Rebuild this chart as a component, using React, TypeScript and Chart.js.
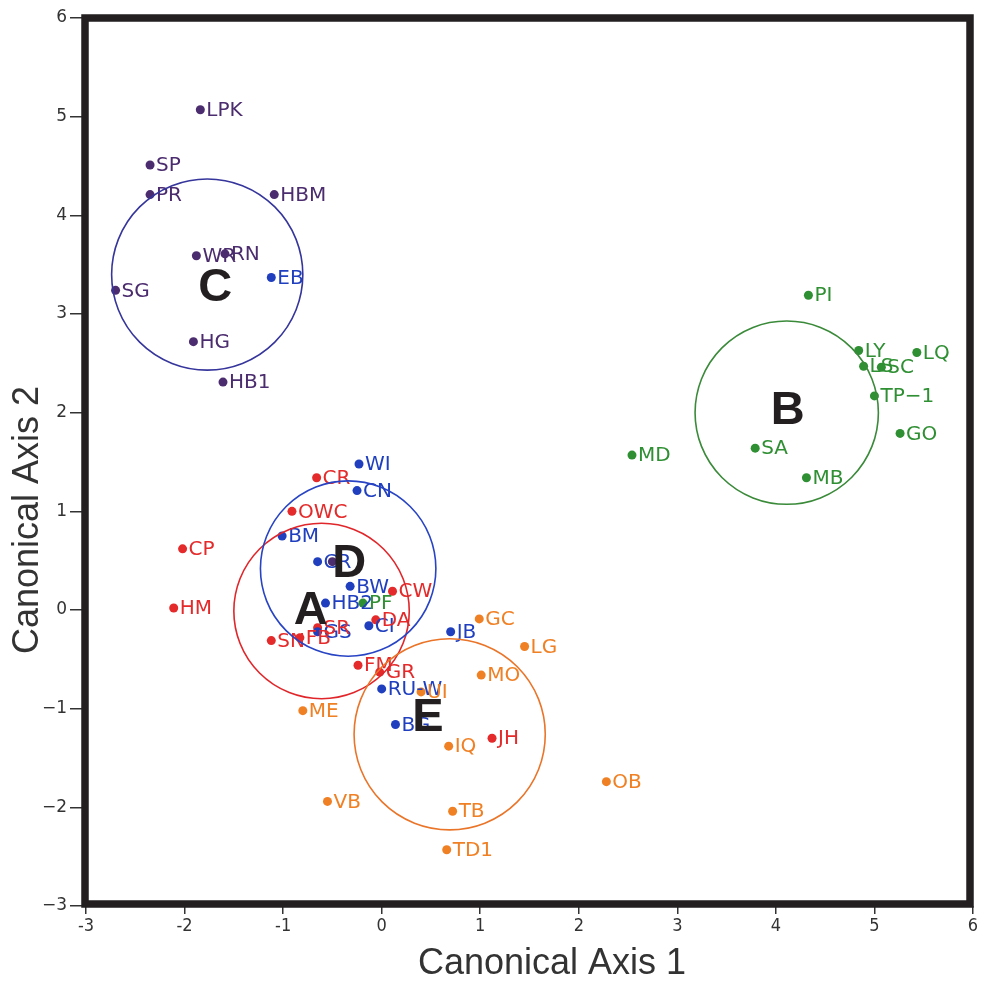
import React, { useEffect, useRef } from "react";
import { Chart, registerables } from "chart.js";

Chart.register(...registerables);

// ---- data ----
const purpleNames = ["LPK", "SP", "PR", "HBM", "WR", "RN", "SG", "HG", "HB1", ""];
const purpleX = [-1.84, -2.35, -2.35, -1.09, -1.88, -1.59, -2.7, -1.91, -1.61, -0.5];
const purpleY = [5.07, 4.51, 4.21, 4.21, 3.59, 3.61, 3.24, 2.72, 2.31, 0.49];

const blueNames = ["WI", "CN", "BM", "CR", "BW", "HB2", "CI", "GS", "JB", "RU-W", "BG", "EB"];
const blueX = [-0.23, -0.25, -1.01, -0.65, -0.32, -0.57, -0.13, -0.65, 0.7, 0.0, 0.14, -1.12];
const blueY = [1.48, 1.21, 0.75, 0.49, 0.24, 0.07, -0.16, -0.22, -0.22, -0.8, -1.16, 3.37];

const redNames = ["CR", "OWC", "CP", "HM", "CW", "DA", "SR", "SN", "FB", "FM", "GR", "JH"];
const redX = [-0.66, -0.91, -2.02, -2.11, 0.11, -0.06, -0.65, -1.12, -0.83, -0.24, -0.02, 1.12];
const redY = [1.34, 1.0, 0.62, 0.02, 0.19, -0.1, -0.18, -0.31, -0.28, -0.56, -0.63, -1.3];

const greenNames = ["PI", "LY", "LQ", "LS", "SC", "TP\u22121", "GO", "SA", "MB", "MD", "PF"];
const greenX = [4.33, 4.84, 5.43, 4.89, 5.07, 5.0, 5.26, 3.79, 4.31, 2.54, -0.19];
const greenY = [3.19, 2.63, 2.61, 2.47, 2.46, 2.17, 1.79, 1.64, 1.34, 1.57, 0.07];

const orangeNames = ["GC", "LG", "MO", "UI", "ME", "IQ", "VB", "TB", "TD1", "OB"];
const orangeX = [0.99, 1.45, 1.01, 0.4, -0.8, 0.68, -0.55, 0.72, 0.66, 2.28];
const orangeY = [-0.09, -0.37, -0.66, -0.83, -1.02, -1.38, -1.94, -2.04, -2.43, -1.74];

// cluster circles (centre, radius in axis-1 units)
const clusterNames = ["A", "B", "C", "D", "E"];
const clusterX = [-0.61, 4.11, -1.77, -0.34, 0.69];
const clusterY = [-0.01, 2.0, 3.4, 0.42, -1.26];
const clusterR = [0.89, 0.93, 0.97, 0.89, 0.97];
const clusterLabelX = [-0.72, 4.12, -1.69, -0.33, 0.47];
const clusterLabelY = [0.01, 2.04, 3.28, 0.49, -1.07];
const clusterColors = ["#e0262a", "#3a8a3a", "#35359c", "#2844c4", "#ea7428"];

const axisMin = -3;
const axisMax = 6;
const xTitle = "Canonical Axis 1";
const yTitle = "Canonical Axis 2";

const PURPLE = "#4b2c6e";
const BLUE = "#1f3fbf";
const RED = "#e42a2a";
const GREEN = "#2f8f33";
const ORANGE = "#f08024";

function mk(label: string, names: string[], xs: number[], ys: number[], color: string) {
  return {
    label,
    names,
    data: xs.map((x, i) => ({ x, y: ys[i] })),
    backgroundColor: color,
    borderWidth: 0,
    pointRadius: 4.5,
    pointHoverRadius: 4.5,
  };
}

const overlayPlugin = {
  id: "overlay",
  afterDatasetsDraw(chart: any) {
    const ctx = chart.ctx;
    const xs = chart.scales.x;
    const ys = chart.scales.y;
    ctx.save();
    // point labels
    ctx.font = "20px 'DejaVu Sans'";
    ctx.textBaseline = "middle";
    ctx.textAlign = "left";
    chart.data.datasets.forEach((ds: any, di: number) => {
      const meta = chart.getDatasetMeta(di);
      ctx.fillStyle = ds.backgroundColor;
      meta.data.forEach((el: any, i: number) => {
        const name = ds.names[i];
        if (name) ctx.fillText(name, el.x + 6, el.y + 1);
      });
    });
    // circles
    clusterNames.forEach((_n, i) => {
      const cx = xs.getPixelForValue(clusterX[i]);
      const cy = ys.getPixelForValue(clusterY[i]);
      const r = Math.abs(xs.getPixelForValue(clusterX[i] + clusterR[i]) - cx);
      ctx.beginPath();
      ctx.arc(cx, cy, r, 0, Math.PI * 2);
      ctx.strokeStyle = clusterColors[i];
      ctx.lineWidth = 1.6;
      ctx.stroke();
    });
    // cluster letters
    ctx.font = "bold 47px 'Liberation Sans'";
    ctx.textAlign = "center";
    ctx.textBaseline = "middle";
    ctx.fillStyle = "#231f20";
    clusterNames.forEach((n, i) => {
      ctx.fillText(n, xs.getPixelForValue(clusterLabelX[i]), ys.getPixelForValue(clusterLabelY[i]) + 2);
    });
    // frame
    const a = chart.chartArea;
    ctx.strokeStyle = "#231f20";
    ctx.lineWidth = 7.5;
    ctx.strokeRect(a.left - 1, a.top, a.right - a.left - 2, a.bottom - a.top - 2);
    // axis titles
    ctx.fillStyle = "#333333";
    ctx.font = "36px 'Liberation Sans'";
    ctx.textAlign = "center";
    ctx.textBaseline = "middle";
    ctx.fillText(xTitle, 552, 964);
    ctx.save();
    ctx.translate(28, 520);
    ctx.rotate(-Math.PI / 2);
    ctx.fillText(yTitle, 0, 0);
    ctx.restore();
    ctx.restore();
  },
};

export default function App() {
  const ref = useRef<HTMLCanvasElement | null>(null);
  useEffect(() => {
    if (!ref.current) return;
    const chart = new Chart(ref.current, {
      type: "scatter",
      data: {
        datasets: [
          mk("C", purpleNames, purpleX, purpleY, PURPLE),
          mk("D", blueNames, blueX, blueY, BLUE),
          mk("A", redNames, redX, redY, RED),
          mk("B", greenNames, greenX, greenY, GREEN),
          mk("E", orangeNames, orangeX, orangeY, ORANGE),
        ] as any,
      },
      options: {
        animation: false,
        responsive: false,
        maintainAspectRatio: false,
        layout: { padding: { left: 0, right: 9, top: 18, bottom: 0 } },
        plugins: { legend: { display: false }, tooltip: { enabled: false } },
        scales: {
          x: {
            type: "linear",
            min: axisMin,
            max: axisMax,
            afterFit: (s: any) => {
              s.height = 76;
            },
            ticks: {
              stepSize: 1,
              padding: 2,
              color: "#333",
              font: { family: "'DejaVu Sans Condensed', 'DejaVu Sans'", size: 18 },
            },
            grid: { drawOnChartArea: false, drawTicks: true, tickLength: 8, color: "#333", lineWidth: 1.5 },
            border: { display: false },
          },
          y: {
            type: "linear",
            min: axisMin,
            max: axisMax,
            afterFit: (s: any) => {
              s.width = 86;
            },
            ticks: {
              stepSize: 1,
              padding: 3,
              color: "#333",
              font: { family: "'DejaVu Sans'", size: 17 },
              callback: (v: any) => (Number(v) < 0 ? "\u2212" + Math.abs(Number(v)) : String(v)),
            },
            grid: { drawOnChartArea: false, drawTicks: true, tickLength: 16, color: "#333", lineWidth: 1.5 },
            border: { display: false },
          },
        },
      },
      plugins: [overlayPlugin],
    });
    return () => chart.destroy();
  }, []);
  return (
    <div style={{ position: "absolute", left: 0, top: 0, width: 982, height: 982, background: "#fff" }}>
      <canvas ref={ref} width={982} height={982} style={{ width: 982, height: 982 }} />
    </div>
  );
}
